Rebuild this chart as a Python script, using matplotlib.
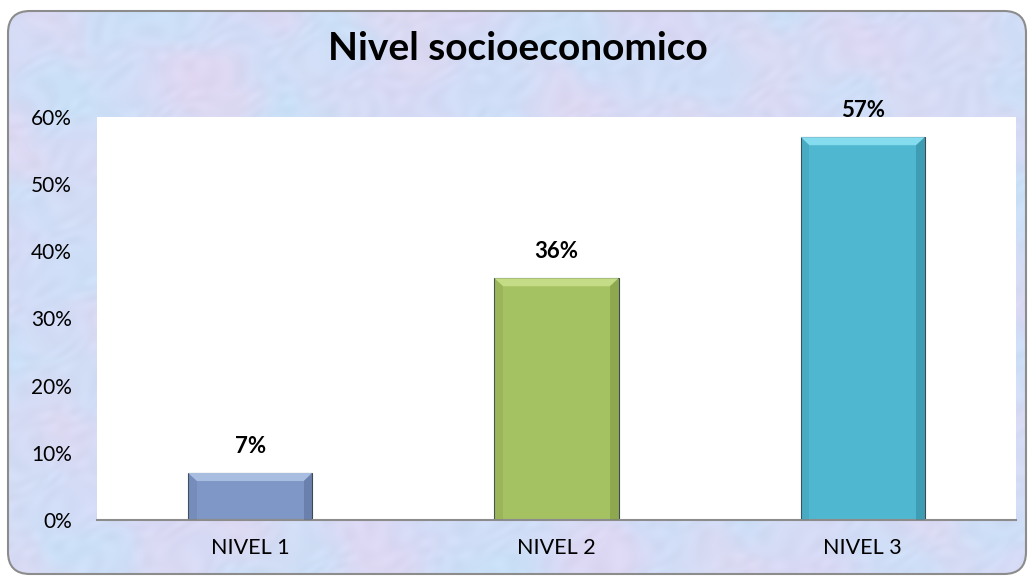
import numpy as np
import matplotlib
matplotlib.use("Agg")
import matplotlib.pyplot as plt
from matplotlib.patches import FancyBboxPatch, Polygon
from matplotlib.ticker import FuncFormatter

categories = ["NIVEL 1", "NIVEL 2", "NIVEL 3"]
values = [0.07, 0.36, 0.57]
labels = ["7%", "36%", "57%"]
bar_colors = ["#7f97c6", "#a5c262", "#4fb7cf"]
light_colors = ["#a9bde0", "#c4dc86", "#86dcef"]
dark_colors = ["#52668f", "#738a3c", "#2d7f93"]
title = "Nivel socioeconomico"
yticks = [0, 0.1, 0.2, 0.3, 0.4, 0.5, 0.6]

plt.rcParams['font.family'] = ['Lato', 'DejaVu Sans']

W, H = 1034, 582
fig = plt.figure(figsize=(W / 100, H / 100), dpi=100)
fig.patch.set_facecolor("white")


def waves(xx, yy, specs):
    # sum of plane waves, specs = (angle deg, wavelength px, phase)
    out = np.zeros_like(xx, dtype=float)
    for ang, lam, ph in specs:
        a = np.deg2rad(ang)
        out += np.sin((xx * np.cos(a) + yy * np.sin(a)) * 2 * np.pi / lam + ph)
    return out / len(specs)


# soft mottled pastel background inside a rounded frame
bg = fig.add_axes([0, 0, 1, 1])
bg.set_xlim(0, W)
bg.set_ylim(H, 0)
bg.axis("off")
yy, xx = np.mgrid[0:H, 0:W].astype(float)
warp_x = 14 * waves(xx, yy, [(17, 97, 0.3), (103, 71, 1.9), (61, 53, 4.1)])
warp_y = 14 * waves(xx, yy, [(151, 89, 2.2), (37, 67, 0.7), (83, 59, 5.3)])
wx, wy = xx + warp_x, yy + warp_y
t_pink = waves(wx, wy, [(23, 173, 0.0), (112, 131, 1.3), (67, 211, 2.7), (149, 97, 4.0)])
t_blue = waves(wx, wy, [(41, 157, 3.1), (128, 119, 0.4), (8, 233, 5.2), (95, 89, 1.1)])
t_fine = waves(wx, wy, [(12, 23, 0.5), (77, 19, 2.0), (133, 29, 3.3), (51, 17, 4.4)])
blue = np.array([0.79, 0.88, 0.97])
lav = np.array([0.85, 0.85, 0.96])
pink = np.array([0.90, 0.84, 0.94])
w_blue = np.clip(0.5 + 0.6 * t_blue, 0, 1)[..., None]
w_pink = np.clip(0.1 + 0.6 * t_pink, 0, 0.5)[..., None]
img = lav * (1 - w_blue) + blue * w_blue
img = img * (1 - w_pink) + pink * w_pink
img = np.clip(img + 0.015 * t_fine[..., None], 0, 1)
frame = FancyBboxPatch((8, 11), 1018, 563, boxstyle="round,pad=0,rounding_size=22",
                       facecolor="none", edgecolor="#8c8c8c", linewidth=1.5, zorder=3)
bg.add_patch(frame)
im = bg.imshow(img, extent=(0, W, H, 0), aspect="auto", zorder=1)
im.set_clip_path(frame)

ax = fig.add_axes([97 / W, 1 - 520 / H, (1016 - 97) / W, (520 - 117) / H])
ax.set_facecolor("white")
x = np.arange(len(categories))
bars = ax.bar(x, values, width=0.405, color=bar_colors, edgecolor="#3d4a55",
              linewidth=0.8, zorder=2)

# bevel highlights on each bar
bx = 0.028
by = 0.012
for b, lc, dc in zip(bars, light_colors, dark_colors):
    x0, y0 = b.get_x(), b.get_y()
    x1, y1 = x0 + b.get_width(), y0 + b.get_height()
    ax.add_patch(Polygon([(x0, y1), (x1, y1), (x1 - bx, y1 - by), (x0 + bx, y1 - by)],
                         closed=True, facecolor=lc, edgecolor="none", zorder=3))
    ax.add_patch(Polygon([(x1, y1), (x1, y0), (x1 - bx, y0), (x1 - bx, y1 - by)],
                         closed=True, facecolor=dc, edgecolor="none", alpha=0.45, zorder=3))
    ax.add_patch(Polygon([(x0, y1), (x0, y0), (x0 + bx, y0), (x0 + bx, y1 - by)],
                         closed=True, facecolor=dc, edgecolor="none", alpha=0.2, zorder=3))

for xi, v, lab in zip(x, values, labels):
    ax.annotate(lab, (xi, v), xytext=(0, 19), textcoords="offset points",
                ha="center", va="center", fontsize=16, fontweight="bold", color="black",
                annotation_clip=False)

ax.set_xlim(-0.5, len(categories) - 0.5)
ax.set_ylim(0, 0.6)
ax.set_yticks(yticks)
ax.yaxis.set_major_formatter(FuncFormatter(lambda v, p: f"{v * 100:.0f}%"))
ax.set_xticks(x)
ax.set_xticklabels(categories)
ax.tick_params(axis="y", length=0, pad=18, labelsize=15)
ax.tick_params(axis="x", length=0, pad=13, labelsize=15.5)
for s in ["top", "right", "left"]:
    ax.spines[s].set_visible(False)
ax.spines["bottom"].set_color("#8c8c8c")
ax.spines["bottom"].set_linewidth(1.5)

fig.text(518 / W, 1 - 48 / H, title, ha="center", va="center",
         fontsize=28, fontweight="bold", color="black")

fig.savefig("out.png", dpi=100)
